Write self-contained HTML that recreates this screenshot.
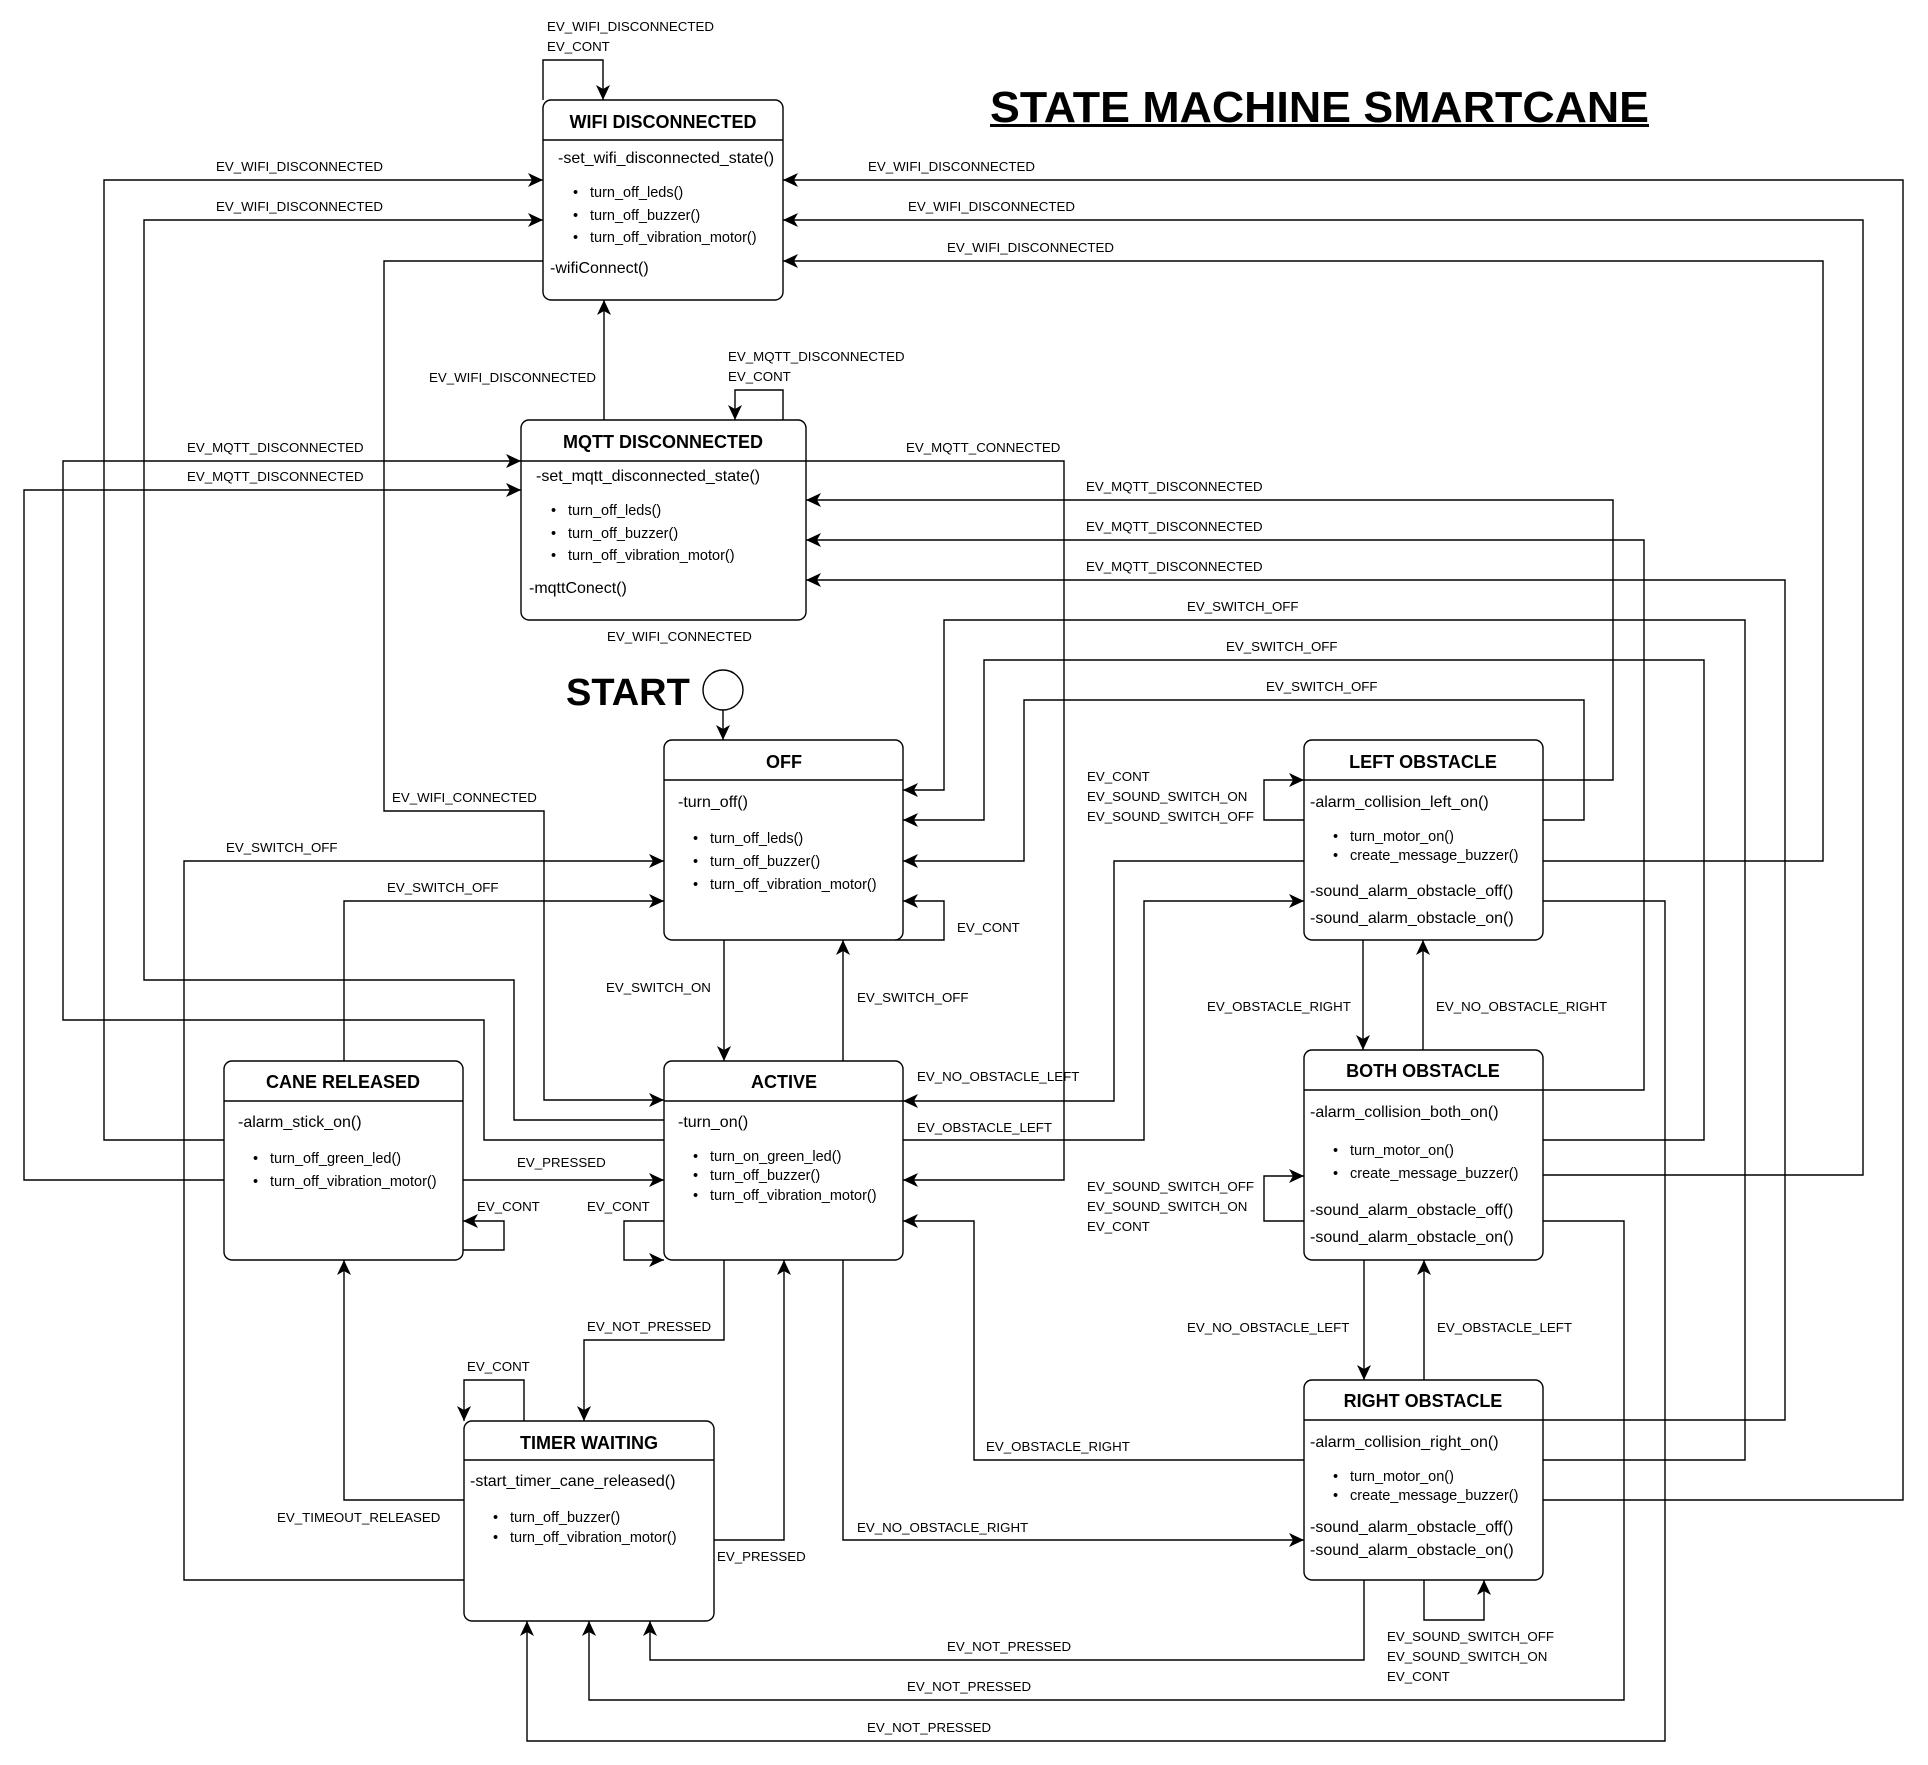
<!DOCTYPE html>
<html><head><meta charset="utf-8"><style>
html,body{margin:0;padding:0;background:#fff;}
svg{display:block;}
text{font-family:"Liberation Sans",Arial,sans-serif;fill:#000;}
.l{font-size:13.3px;}
.b{font-size:16px;}
.s{font-size:14.5px;}
.t{font-size:18px;font-weight:bold;}
</style></head><body>
<svg width="1928" height="1765" viewBox="0 0 1928 1765" xmlns="http://www.w3.org/2000/svg">
<defs>
<marker id="a" markerUnits="userSpaceOnUse" markerWidth="16" markerHeight="14" refX="15" refY="7" orient="auto">
<path d="M0,0 L15,7 L0,14 L4,7 z" fill="#000"/>
</marker>
</defs>
<rect width="1928" height="1765" fill="#fff"/>
<g fill="none" stroke="#000" stroke-width="1.4" marker-end="url(#a)">
<path d="M543,100 V60 H603 V100"/>
<path d="M224,1140 H104 V180 H543"/>
<path d="M664,1120 H514 V980 H144 V220 H543"/>
<path d="M543,261 H384 V811 H544 V1100 H664"/>
<path d="M1543,1500 H1903 V180 H783"/>
<path d="M1543,1175 H1863 V220 H783"/>
<path d="M1543,861 H1823 V261 H783"/>
<path d="M604,420 V300"/>
<path d="M783,420 V390 H735 V420"/>
<path d="M664,1140 H484 V1020 H63 V461 H521"/>
<path d="M224,1180 H24 V490 H521"/>
<path d="M806,461 H1064 V1180 H903"/>
<path d="M1543,780 H1613 V500 H806"/>
<path d="M1543,1090 H1644 V540 H806"/>
<path d="M1543,1420 H1785 V580 H806"/>
<path d="M723,710 V740"/>
<path d="M464,1580 H184 V861 H664"/>
<path d="M344,1061 V901 H664"/>
<path d="M1543,1460 H1745 V620 H944 V790 H903"/>
<path d="M1543,1140 H1704 V660 H984 V820 H903"/>
<path d="M1543,820 H1584 V700 H1024 V861 H903"/>
<path d="M895,940 H944 V901 H903"/>
<path d="M724,940 V1061"/>
<path d="M843,1061 V940"/>
<path d="M1304,861 H1114 V1101 H903"/>
<path d="M903,1140 H1144 V901 H1304"/>
<path d="M1304,820 H1264 V780 H1304"/>
<path d="M1363,940 V1050"/>
<path d="M1423,1050 V940"/>
<path d="M1304,1221 H1264 V1176 H1304"/>
<path d="M1364,1260 V1380"/>
<path d="M1424,1380 V1260"/>
<path d="M1424,1580 V1620 H1484 V1580"/>
<path d="M463,1180 H664"/>
<path d="M463,1250 H504 V1221 H463"/>
<path d="M664,1221 H624 V1260 H664"/>
<path d="M464,1500 H344 V1260"/>
<path d="M724,1260 V1340 H584 V1421"/>
<path d="M524,1421 V1380 H464 V1421"/>
<path d="M714,1540 H784 V1260"/>
<path d="M843,1260 V1540 H1304"/>
<path d="M1304,1460 H974 V1221 H903"/>
<path d="M1364,1580 V1660 H650 V1621"/>
<path d="M1543,1221 H1624 V1700 H589 V1621"/>
<path d="M1543,901 H1665 V1741 H527 V1621"/>
</g>
<circle cx="723" cy="690" r="20" fill="#fff" stroke="#000" stroke-width="1.4"/>
<g fill="#fff" stroke="#000" stroke-width="1.4">
<rect x="543" y="100" width="240" height="200" rx="8"/><line x1="543" y1="140" x2="783" y2="140"/>
<rect x="521" y="420" width="285" height="200" rx="8"/><line x1="521" y1="461" x2="806" y2="461"/>
<rect x="664" y="740" width="239" height="200" rx="8"/><line x1="664" y1="780" x2="903" y2="780"/>
<rect x="664" y="1061" width="239" height="199" rx="8"/><line x1="664" y1="1101" x2="903" y2="1101"/>
<rect x="224" y="1061" width="239" height="199" rx="8"/><line x1="224" y1="1101" x2="463" y2="1101"/>
<rect x="464" y="1421" width="250" height="200" rx="8"/><line x1="464" y1="1460" x2="714" y2="1460"/>
<rect x="1304" y="740" width="239" height="200" rx="8"/><line x1="1304" y1="780" x2="1543" y2="780"/>
<rect x="1304" y="1050" width="239" height="210" rx="8"/><line x1="1304" y1="1090" x2="1543" y2="1090"/>
<rect x="1304" y="1380" width="239" height="200" rx="8"/><line x1="1304" y1="1420" x2="1543" y2="1420"/>
</g>
<text x="990" y="122" style="font-size:44px;font-weight:bold" textLength="659" lengthAdjust="spacingAndGlyphs">STATE MACHINE SMARTCANE</text>
<rect x="990" y="124" width="659" height="3" fill="#000"/>
<text x="566" y="705" style="font-size:38px;font-weight:bold">START</text>
<g class="t" text-anchor="middle">
<text x="663" y="128">WIFI DISCONNECTED</text>
<text x="663" y="448">MQTT DISCONNECTED</text>
<text x="784" y="768">OFF</text>
<text x="784" y="1088">ACTIVE</text>
<text x="343" y="1088">CANE RELEASED</text>
<text x="589" y="1449">TIMER WAITING</text>
<text x="1423" y="768">LEFT OBSTACLE</text>
<text x="1423" y="1077">BOTH OBSTACLE</text>
<text x="1423" y="1407">RIGHT OBSTACLE</text>
</g>
<g class="b">
<text x="558" y="163">-set_wifi_disconnected_state()</text>
<text x="550" y="273">-wifiConnect()</text>
<text x="536" y="481">-set_mqtt_disconnected_state()</text>
<text x="529" y="593">-mqttConect()</text>
<text x="678" y="807">-turn_off()</text>
<text x="678" y="1127">-turn_on()</text>
<text x="238" y="1127">-alarm_stick_on()</text>
<text x="470" y="1486">-start_timer_cane_released()</text>
<text x="1310" y="807">-alarm_collision_left_on()</text>
<text x="1310" y="896">-sound_alarm_obstacle_off()</text>
<text x="1310" y="923">-sound_alarm_obstacle_on()</text>
<text x="1310" y="1117">-alarm_collision_both_on()</text>
<text x="1310" y="1215">-sound_alarm_obstacle_off()</text>
<text x="1310" y="1242">-sound_alarm_obstacle_on()</text>
<text x="1310" y="1447">-alarm_collision_right_on()</text>
<text x="1310" y="1532">-sound_alarm_obstacle_off()</text>
<text x="1310" y="1555">-sound_alarm_obstacle_on()</text>
</g>
<g class="s">
<text x="573" y="197">•</text><text x="590" y="197">turn_off_leds()</text>
<text x="573" y="220">•</text><text x="590" y="220">turn_off_buzzer()</text>
<text x="573" y="242">•</text><text x="590" y="242">turn_off_vibration_motor()</text>
<text x="551" y="515">•</text><text x="568" y="515">turn_off_leds()</text>
<text x="551" y="538">•</text><text x="568" y="538">turn_off_buzzer()</text>
<text x="551" y="560">•</text><text x="568" y="560">turn_off_vibration_motor()</text>
<text x="693" y="843">•</text><text x="710" y="843">turn_off_leds()</text>
<text x="693" y="866">•</text><text x="710" y="866">turn_off_buzzer()</text>
<text x="693" y="889">•</text><text x="710" y="889">turn_off_vibration_motor()</text>
<text x="693" y="1161">•</text><text x="710" y="1161">turn_on_green_led()</text>
<text x="693" y="1180">•</text><text x="710" y="1180">turn_off_buzzer()</text>
<text x="693" y="1200">•</text><text x="710" y="1200">turn_off_vibration_motor()</text>
<text x="253" y="1163">•</text><text x="270" y="1163">turn_off_green_led()</text>
<text x="253" y="1186">•</text><text x="270" y="1186">turn_off_vibration_motor()</text>
<text x="493" y="1522">•</text><text x="510" y="1522">turn_off_buzzer()</text>
<text x="493" y="1542">•</text><text x="510" y="1542">turn_off_vibration_motor()</text>
<text x="1333" y="841">•</text><text x="1350" y="841">turn_motor_on()</text>
<text x="1333" y="860">•</text><text x="1350" y="860">create_message_buzzer()</text>
<text x="1333" y="1155">•</text><text x="1350" y="1155">turn_motor_on()</text>
<text x="1333" y="1178">•</text><text x="1350" y="1178">create_message_buzzer()</text>
<text x="1333" y="1481">•</text><text x="1350" y="1481">turn_motor_on()</text>
<text x="1333" y="1500">•</text><text x="1350" y="1500">create_message_buzzer()</text>
</g>
<g class="l">
<text x="547" y="31">EV_WIFI_DISCONNECTED</text>
<text x="547" y="51">EV_CONT</text>
<text x="216" y="171">EV_WIFI_DISCONNECTED</text>
<text x="216" y="211">EV_WIFI_DISCONNECTED</text>
<text x="868" y="171">EV_WIFI_DISCONNECTED</text>
<text x="908" y="211">EV_WIFI_DISCONNECTED</text>
<text x="947" y="252">EV_WIFI_DISCONNECTED</text>
<text x="429" y="382">EV_WIFI_DISCONNECTED</text>
<text x="728" y="361">EV_MQTT_DISCONNECTED</text>
<text x="728" y="381">EV_CONT</text>
<text x="187" y="452">EV_MQTT_DISCONNECTED</text>
<text x="187" y="481">EV_MQTT_DISCONNECTED</text>
<text x="906" y="452">EV_MQTT_CONNECTED</text>
<text x="1086" y="491">EV_MQTT_DISCONNECTED</text>
<text x="1086" y="531">EV_MQTT_DISCONNECTED</text>
<text x="1086" y="571">EV_MQTT_DISCONNECTED</text>
<text x="1187" y="611">EV_SWITCH_OFF</text>
<text x="1226" y="651">EV_SWITCH_OFF</text>
<text x="1266" y="691">EV_SWITCH_OFF</text>
<text x="607" y="641">EV_WIFI_CONNECTED</text>
<text x="392" y="802">EV_WIFI_CONNECTED</text>
<text x="226" y="852">EV_SWITCH_OFF</text>
<text x="387" y="892">EV_SWITCH_OFF</text>
<text x="957" y="932">EV_CONT</text>
<text x="1087" y="781">EV_CONT</text>
<text x="1087" y="801">EV_SOUND_SWITCH_ON</text>
<text x="1087" y="821">EV_SOUND_SWITCH_OFF</text>
<text x="606" y="992">EV_SWITCH_ON</text>
<text x="857" y="1002">EV_SWITCH_OFF</text>
<text x="1207" y="1011">EV_OBSTACLE_RIGHT</text>
<text x="1436" y="1011">EV_NO_OBSTACLE_RIGHT</text>
<text x="917" y="1081">EV_NO_OBSTACLE_LEFT</text>
<text x="917" y="1132">EV_OBSTACLE_LEFT</text>
<text x="517" y="1167">EV_PRESSED</text>
<text x="1087" y="1191">EV_SOUND_SWITCH_OFF</text>
<text x="1087" y="1211">EV_SOUND_SWITCH_ON</text>
<text x="1087" y="1231">EV_CONT</text>
<text x="477" y="1211">EV_CONT</text>
<text x="587" y="1211">EV_CONT</text>
<text x="587" y="1331">EV_NOT_PRESSED</text>
<text x="1187" y="1332">EV_NO_OBSTACLE_LEFT</text>
<text x="1437" y="1332">EV_OBSTACLE_LEFT</text>
<text x="467" y="1371">EV_CONT</text>
<text x="986" y="1451">EV_OBSTACLE_RIGHT</text>
<text x="277" y="1522">EV_TIMEOUT_RELEASED</text>
<text x="857" y="1532">EV_NO_OBSTACLE_RIGHT</text>
<text x="717" y="1561">EV_PRESSED</text>
<text x="1387" y="1641">EV_SOUND_SWITCH_OFF</text>
<text x="1387" y="1661">EV_SOUND_SWITCH_ON</text>
<text x="1387" y="1681">EV_CONT</text>
<text x="947" y="1651">EV_NOT_PRESSED</text>
<text x="907" y="1691">EV_NOT_PRESSED</text>
<text x="867" y="1732">EV_NOT_PRESSED</text>
</g>
</svg>
</body></html>
